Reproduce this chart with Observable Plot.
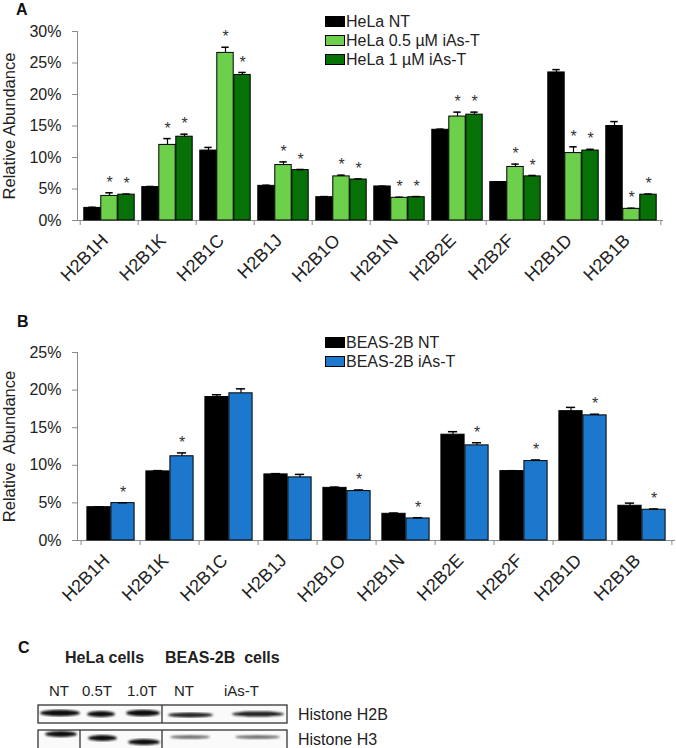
<!DOCTYPE html>
<html><head><meta charset="utf-8">
<script src="https://cdn.jsdelivr.net/npm/d3@7"></script>
<script src="https://cdn.jsdelivr.net/npm/@observablehq/plot@0.6"></script>
<style>
body{margin:0;background:#fff;}
#root{position:relative;width:676px;height:748px;overflow:hidden;font-family:"Liberation Sans",Arial,sans-serif;color:#222;background:#fff}
.panel{position:absolute;left:0}
.lab{position:absolute;font-weight:bold;font-size:16px;line-height:18px;color:#111}
.leg{position:absolute;font-size:16px;white-space:nowrap;color:#222}
.leg .row{display:flex;align-items:center;height:19px}
.sw{width:20px;height:11px;border:1px solid #000;box-sizing:border-box;margin-right:1px}
</style></head><body><div id="root"></div>
<script>
// ---------- data ----------
const genes = ["H2B1H","H2B1K","H2B1C","H2B1J","H2B1O","H2B1N","H2B2E","H2B2F","H2B1D","H2B1B"];

// Panel A (HeLa), relative abundance in %
const helaNT     = [2.0, 5.3, 11.1, 5.5, 3.7, 5.4, 14.4, 6.1, 23.5, 15.0];
const helaNTErr  = [0.1, 0.1, 0.5, 0.1, 0.1, 0.05, 0.1, 0.05, 0.45, 0.7];
const hela05     = [3.9, 12.0, 26.6, 8.8, 7.0, 3.6, 16.5, 8.5, 10.7, 1.85];
const hela05Err  = [0.5, 1.0, 0.9, 0.5, 0.2, 0.1, 0.7, 0.45, 1.0, 0.1];
const hela1      = [4.1, 13.3, 23.1, 8.0, 6.5, 3.7, 16.8, 7.0, 11.1, 4.1];
const hela1Err   = [0.1, 0.4, 0.4, 0.1, 0.1, 0.1, 0.4, 0.15, 0.2, 0.1];
const hela05Sig  = [1,1,1,1,1,1,1,1,1,1];
const hela1Sig   = [1,1,1,1,1,1,1,1,1,1];
const helaNames  = ["HeLa NT", "HeLa 0.5 µM iAs-T", "HeLa 1 µM iAs-T"];
const yTicksA    = [0, 5, 10, 15, 20, 25, 30];

// Panel B (BEAS-2B)
const beasNT     = [4.43, 9.19, 19.08, 8.79, 7.0, 3.55, 14.07, 9.23, 17.2, 4.62];
const beasNTErr  = [0.05, 0.1, 0.3, 0.1, 0.1, 0.1, 0.4, 0.05, 0.5, 0.35];
const beasIAs    = [4.97, 11.2, 19.57, 8.39, 6.57, 2.93, 12.65, 10.56, 16.64, 4.09];
const beasIAsErr = [0.05, 0.45, 0.6, 0.4, 0.15, 0.1, 0.35, 0.15, 0.15, 0.1];
const beasIAsSig = [1,1,0,0,1,1,1,1,1,1];
const beasNames  = ["BEAS-2B NT", "BEAS-2B iAs-T"];
const yTicksB    = [0, 5, 10, 15, 20, 25];

// Panel C labels
const blotGroups = ["HeLa cells", "BEAS-2B  cells"];
const blotLanes  = ["NT", "0.5T", "1.0T", "NT", "iAs-T"];
const blotRows   = ["Histone H2B", "Histone H3"];

// ---------- styles ----------
const colBlack = "#000000", colLight = "#6cd04a", colDark = "#077007", colBlue = "#1c78cc";
const axisGray = "#8c8c8c";

function rowsOf(vals, errs, sig) {
  return genes.map((g, i) => ({gene: g, value: vals[i], err: errs[i], sig: sig ? sig[i] : 0}));
}

function makePanel({series, width, height, ml, mr, mt, mb, yMax, yTicks, barW, capW, yLabel}) {
  const bw = (width - ml - mr) / genes.length;
  const inset = (bw - barW) / 2;
  const n = series.length;
  const marks = [
    Plot.ruleY([0], {stroke: axisGray}),
    Plot.frame({anchor: "left", stroke: axisGray}),
    Plot.axisY(yTicks, {tickSize: 5, tickPadding: 11, tickFormat: d => d + "%", stroke: axisGray, fill: "#222", fontSize: 16, label: null}),
    Plot.axisX(genes, {tickSize: 5, tickFormat: () => "", dx: -bw / 2, stroke: axisGray, label: null}),
    Plot.axisX([genes[genes.length - 1]], {tickSize: 5, tickFormat: () => "", dx: bw / 2, stroke: axisGray, label: null}),
    Plot.text(genes, {x: d => d, y: () => 0, text: d => d, rotate: -45, textAnchor: "end", dx: -4.5, dy: 17, fontSize: 18, fill: "#222"}),
    Plot.text([yLabel], {frameAnchor: "left", textAnchor: "middle", rotate: -90, dx: -68, text: d => d, fontSize: 16.5, fill: "#222"})
  ];
  series.forEach((s, i) => {
    const off = (i - (n - 1) / 2) * barW;
    marks.push(
      Plot.barY(s.rows, {x: "gene", y: "value", fill: s.color, stroke: "#000", strokeWidth: 1, insetLeft: inset, insetRight: inset, dx: off}),
      Plot.ruleX(s.rows, {x: "gene", y1: "value", y2: d => d.value + d.err, dx: off, stroke: "#000", strokeWidth: 1.2}),
      Plot.tickY(s.rows, {x: "gene", y: d => d.value + d.err, dx: off, insetLeft: (bw - capW) / 2, insetRight: (bw - capW) / 2, stroke: "#000", strokeWidth: 1.5}),
      Plot.text(s.rows.filter(d => d.sig), {x: "gene", y: d => d.value + d.err, text: () => "*", dx: off, dy: -10, fontSize: 16, fill: "#333"})
    );
  });
  return Plot.plot({
    width, height, marginLeft: ml, marginRight: mr, marginTop: mt, marginBottom: mb,
    style: {fontFamily: "'Liberation Sans', Arial, sans-serif", fontSize: "15px", background: "transparent", overflow: "visible"},
    x: {type: "band", domain: genes, padding: 0},
    y: {domain: [0, yMax], nice: false},
    marks
  });
}

const root = document.getElementById("root");

// Panel A
const plotA = makePanel({
  series: [
    {rows: rowsOf(helaNT, helaNTErr, null), color: colBlack},
    {rows: rowsOf(hela05, hela05Err, hela05Sig), color: colLight},
    {rows: rowsOf(hela1, hela1Err, hela1Sig), color: colDark}
  ],
  width: 676, height: 300, ml: 77, mr: 13, mt: 31, mb: 80, yMax: 30, yTicks: yTicksA, barW: 17, capW: 8,
  yLabel: "Relative Abundance"
});
plotA.classList.add("panel"); plotA.style.top = "0px";
root.appendChild(plotA);

// Panel B
const plotB = makePanel({
  series: [
    {rows: rowsOf(beasNT, beasNTErr, null), color: colBlack},
    {rows: rowsOf(beasIAs, beasIAsErr, beasIAsSig), color: colBlue}
  ],
  width: 676, height: 320, ml: 77, mr: 1, mt: 52, mb: 80, yMax: 25, yTicks: yTicksB, barW: 24, capW: 10,
  yLabel: "Relative  Abundance"
});
plotB.classList.add("panel"); plotB.style.top = "300px";
root.appendChild(plotB);

// Panel letters
function addLab(txt, x, y) {
  const d = document.createElement("div"); d.className = "lab"; d.textContent = txt;
  d.style.left = x + "px"; d.style.top = y + "px"; root.appendChild(d);
}
addLab("A", 16, 1);
addLab("B", 17, 313);

// Legends
function addLegend(names, colors, x, y) {
  const L = document.createElement("div"); L.className = "leg"; L.style.left = x + "px"; L.style.top = y + "px";
  names.forEach((nm, i) => {
    const r = document.createElement("div"); r.className = "row";
    const sw = document.createElement("div"); sw.className = "sw"; sw.style.background = colors[i];
    const t = document.createElement("span"); t.textContent = nm;
    r.appendChild(sw); r.appendChild(t); L.appendChild(r);
  });
  root.appendChild(L);
}
addLegend(helaNames, [colBlack, colLight, colDark], 325, 12);
addLegend(beasNames, [colBlack, colBlue], 325, 333);

// Panel C (western blot illustration)
const svgC = d3.select(root).append("svg").attr("class", "panel").style("top", "620px")
  .attr("width", 676).attr("height", 128).style("font-family", "'Liberation Sans', Arial, sans-serif");
const defs = svgC.append("defs");
defs.append("filter").attr("id", "blur").append("feGaussianBlur").attr("stdDeviation", 1.1);
const gC = svgC.append("g").attr("transform", "translate(0,-620)");
gC.append("text").attr("x", 18).attr("y", 653).attr("font-weight", "bold").attr("font-size", 16).attr("fill", "#111").text("C");
const groupX = [65, 165];
blotGroups.forEach((t, i) => gC.append("text").attr("x", groupX[i]).attr("y", 663).attr("font-weight", "bold")
  .attr("font-size", 16).attr("fill", "#222").attr("xml:space", "preserve").style("white-space", "pre").text(t));
const laneX = [49, 82, 127, 174, 224];
blotLanes.forEach((t, i) => gC.append("text").attr("x", laneX[i]).attr("y", 696).attr("font-size", 15).attr("fill", "#222").text(t));
const rowY = [720, 745];
blotRows.forEach((t, i) => gC.append("text").attr("x", 298).attr("y", rowY[i]).attr("font-size", 16).attr("fill", "#222").text(t));

// blot boxes
gC.append("rect").attr("x", 38).attr("y", 705).attr("width", 249).attr("height", 18).attr("fill", "#fafafa").attr("stroke", "#333").attr("stroke-width", 1.3);
gC.append("line").attr("x1", 162).attr("x2", 162).attr("y1", 705).attr("y2", 723).attr("stroke", "#333").attr("stroke-width", 1.3);
gC.append("rect").attr("x", 38).attr("y", 730).attr("width", 249).attr("height", 24).attr("fill", "#fafafa").attr("stroke", "#333").attr("stroke-width", 1.3);
[80, 162].forEach(x => gC.append("line").attr("x1", x).attr("x2", x).attr("y1", 730).attr("y2", 754).attr("stroke", "#333").attr("stroke-width", 1.3));
// bands
const bandsH2B = [[40, 80, 713, 3.2, "#111"], [87, 115, 714, 3.0, "#111"], [126, 160, 713, 3.2, "#111"], [168, 213, 715, 2.4, "#222"], [232, 284, 714, 2.6, "#1a1a1a"]];
const bandsH3 = [[45, 77, 734, 3.0, "#111"], [88, 117, 738, 3.0, "#111"], [128, 160, 742, 3.0, "#111"], [170, 210, 737, 1.8, "#666"], [235, 280, 737, 1.8, "#666"]];
[...bandsH2B, ...bandsH3].forEach(([x1, x2, y, ry, c]) =>
  gC.append("ellipse").attr("cx", (x1 + x2) / 2).attr("cy", y).attr("rx", (x2 - x1) / 2).attr("ry", ry).attr("fill", c).attr("filter", "url(#blur)"));
</script></body></html>
